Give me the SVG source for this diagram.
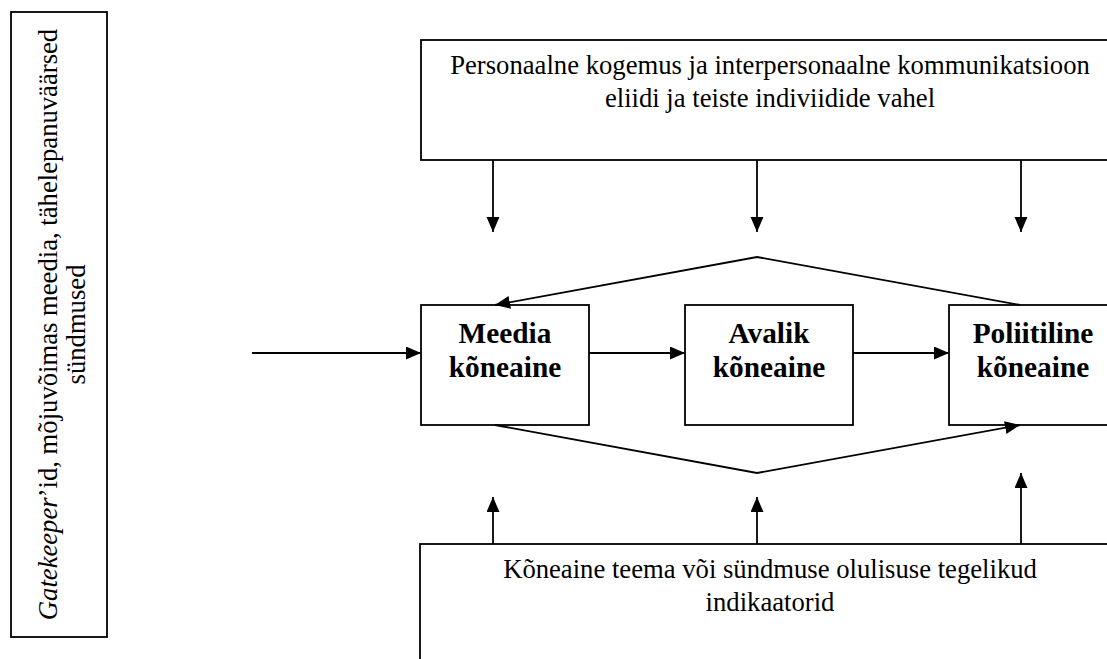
<svg xmlns="http://www.w3.org/2000/svg" width="1107" height="659" viewBox="0 0 1107 659">
  <style>
    .box { fill: #ffffff; stroke: #000000; stroke-width: 1.8; }
    .conn { fill: none; stroke: #000000; stroke-width: 1.8; }
    .reg { font-family: "Liberation Serif", "Times New Roman", serif; font-size: 26.67px; fill: #000000; text-anchor: middle; }
    .bold { font-family: "Liberation Serif", "Times New Roman", serif; font-size: 29.33px; font-weight: bold; fill: #000000; text-anchor: middle; }
  </style>
  <defs>
    <marker id="arrow" markerUnits="userSpaceOnUse" markerWidth="16" markerHeight="14" refX="15" refY="6.5" orient="auto">
      <path d="M0,0 L15,6.5 L0,13 z" fill="#000000"/>
    </marker>
  </defs>
  <rect width="1107" height="659" fill="#ffffff"/>

  <g id="node-gatekeeper">
    <rect class="box" x="11" y="12" width="96" height="625"/>
    <text class="reg" transform="translate(57,324.5) rotate(-90)"><tspan font-style="italic">Gatekeeper</tspan>’id, mõjuvõimas meedia, tähelepanuväärsed</text>
    <text class="reg" transform="translate(85,324.5) rotate(-90)">sündmused</text>
  </g>

  <g id="node-personaalne">
    <rect class="box" x="421" y="40" width="700" height="120"/>
    <text class="reg" x="770" y="74">Personaalne kogemus ja interpersonaalne kommunikatsioon</text>
    <text class="reg" x="770" y="107">eliidi ja teiste indiviidide vahel</text>
  </g>

  <g id="node-meedia">
    <rect class="box" x="421" y="305" width="168" height="120"/>
    <text class="bold" x="505" y="343">Meedia</text>
    <text class="bold" x="505" y="377">kõneaine</text>
  </g>

  <g id="node-avalik">
    <rect class="box" x="685" y="305" width="168" height="120"/>
    <text class="bold" x="769" y="343">Avalik</text>
    <text class="bold" x="769" y="377">kõneaine</text>
  </g>

  <g id="node-poliitiline">
    <rect class="box" x="949" y="305" width="168" height="120"/>
    <text class="bold" x="1033" y="343">Poliitiline</text>
    <text class="bold" x="1033" y="377">kõneaine</text>
  </g>

  <g id="node-indikaatorid">
    <rect class="box" x="420" y="544" width="700" height="130"/>
    <text class="reg" x="770" y="578">Kõneaine teema või sündmuse olulisuse tegelikud</text>
    <text class="reg" x="770" y="611">indikaatorid</text>
  </g>

  <g id="connectors">
    <path class="conn" d="M252,353 L421,353" marker-end="url(#arrow)"/>
    <path class="conn" d="M589,353 L685,353" marker-end="url(#arrow)"/>
    <path class="conn" d="M853,353 L949,353" marker-end="url(#arrow)"/>

    <path class="conn" d="M493,160 L493,232" marker-end="url(#arrow)"/>
    <path class="conn" d="M757,160 L757,232" marker-end="url(#arrow)"/>
    <path class="conn" d="M1021,160 L1021,232" marker-end="url(#arrow)"/>

    <path class="conn" d="M493,544 L493,497" marker-end="url(#arrow)"/>
    <path class="conn" d="M757,544 L757,497" marker-end="url(#arrow)"/>
    <path class="conn" d="M1021,544 L1021,473" marker-end="url(#arrow)"/>

    <path class="conn" d="M1020,305 L757,257 L495,305" marker-end="url(#arrow)"/>
    <path class="conn" d="M495,425 L757,473 L1020,425" marker-end="url(#arrow)"/>
  </g>
</svg>
